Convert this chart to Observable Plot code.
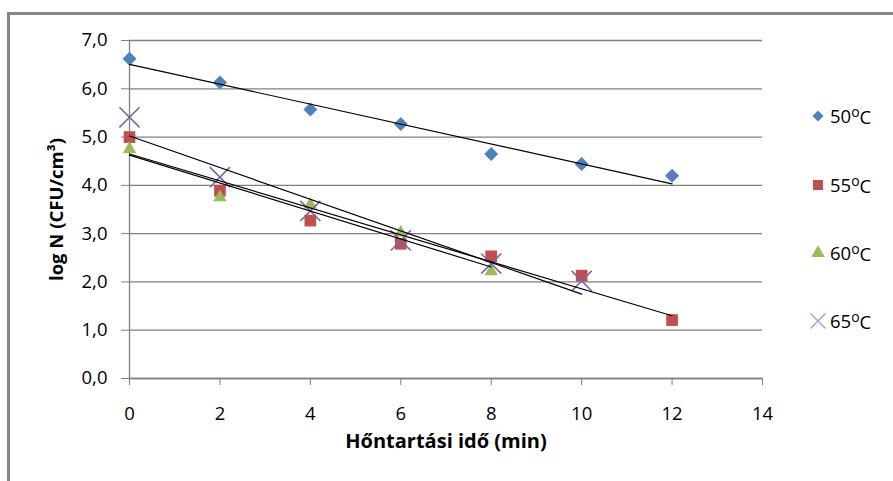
<!DOCTYPE html>
<html><head><meta charset="utf-8">
<script src="https://cdn.jsdelivr.net/npm/d3@7"></script>
<script src="https://cdn.jsdelivr.net/npm/@observablehq/plot@0.6"></script>
<style>
body{margin:0;background:#fff;}
#wrap{position:relative;width:893px;height:481px;overflow:hidden;background:#fff;}
#frame{position:absolute;left:7px;top:12px;width:1000px;height:1000px;border-left:3px solid #878787;border-top:3px solid #878787;}
#chart{position:absolute;left:0;top:0;}
#legend{position:absolute;left:0;top:0;}
</style></head><body>
<div id="wrap"><div id="frame"></div><div id="chart"></div><svg id="legend" width="893" height="481"></svg></div>
<script>
// ---- data ----
const times = [0, 2, 4, 6, 8, 10, 12];
const seriesLabels = ["50", "55", "60", "65"];
const s50 = [6.62, 6.13, 5.57, 5.27, 4.65, 4.44, 4.20];
const s55 = [5.00, 3.89, 3.27, 2.79, 2.53, 2.13, 1.21];
const s60 = [4.75, 3.75, 3.60, 3.02, 2.22];
const s65 = [5.41, 4.17, 3.47, 2.86, 2.38, 2.02];
const yTicks = [0, 1, 2, 3, 4, 5, 6, 7];
const xTicks = [0, 2, 4, 6, 8, 10, 12, 14];
const xTitle = "Hőntartási idő (min)";
const yTitle = "log N (CFU/cm³)";

const seriesValues = [s50, s55, s60, s65];
const colors = ["#4F81BD", "#C0504D", "#9BBB59", "#8064A2"];
const symbols = ["diamond2", "square", "triangle", "times"];
const radii = [6.3, 6.6, 5.0, 9.2];

const rows = [];
seriesValues.forEach((vals, k) => vals.forEach((v, i) => rows.push({t: times[i], v, s: seriesLabels[k]})));

const dotMarks = seriesLabels.map((name, k) => {
  const d = rows.filter(r => r.s === name);
  return symbols[k] === "times"
    ? Plot.dot(d, {x: "t", y: "v", symbol: "times", r: radii[k], stroke: colors[k], strokeWidth: 1.6})
    : Plot.dot(d, {x: "t", y: "v", symbol: symbols[k], r: radii[k], fill: colors[k], stroke: "none"});
});

const chart = Plot.plot({
  width: 893, height: 481,
  marginLeft: 129, marginRight: 131, marginTop: 40, marginBottom: 103,
  x: {domain: [0, 14]},
  y: {domain: [0, 7]},
  style: {fontFamily: "Open Sans", fontSize: "18.5px", color: "#000", background: "transparent", overflow: "visible"},
  marks: [
    Plot.gridY(yTicks, {stroke: "#808080", strokeOpacity: 1, strokeWidth: 1.3}),
    Plot.axisY(yTicks, {tickSize: 8, tickPadding: 14, stroke: "#808080", fill: "#000", label: null,
      tickFormat: d => d.toFixed(1).replace(".", ",")}),
    Plot.axisX(xTicks, {tickSize: 7, tickPadding: 21, stroke: "#808080", fill: "#000", label: null,
      tickFormat: d => String(d)}),
    Plot.ruleX([0], {stroke: "#808080", strokeWidth: 1.3}),
    Plot.ruleY([0], {stroke: "#808080", strokeWidth: 1.3}),
    ...dotMarks,
    Plot.linearRegressionY(rows, {x: "t", y: "v", z: "s", stroke: "#000", strokeWidth: 1.2, ci: 0}),
    Plot.text([xTitle], {frameAnchor: "bottom", dy: 63, lineAnchor: "middle", textAnchor: "middle", fontWeight: "bold", fontSize: 20}),
    Plot.text([yTitle], {frameAnchor: "left", dx: -72, rotate: -90, lineAnchor: "middle", textAnchor: "middle", fontWeight: "bold", fontSize: 18.5})
  ]
});
document.getElementById("chart").appendChild(chart);

// ---- legend ----
const leg = d3.select("#legend");
const legY = [116, 185, 253, 321];
const symMap = {diamond2: d3.symbolDiamond2, square: d3.symbolSquare, triangle: d3.symbolTriangle, times: d3.symbolTimes};
const legSize = [80, 100, 80, 150];
seriesLabels.forEach((name, k) => {
  const g = leg.append("g").attr("transform", `translate(818,${legY[k]})`);
  const p = g.append("path").attr("d", d3.symbol(symMap[symbols[k]], legSize[k])());
  if (symbols[k] === "times") p.attr("fill", "none").attr("stroke", "#A898C8").attr("stroke-width", 1.2);
  else p.attr("fill", colors[k]);
  const t = leg.append("text").attr("x", 830).attr("y", legY[k]).attr("dy", "0.36em")
    .attr("font-family", "Open Sans").attr("font-size", 18.5).attr("fill", "#000");
  t.append("tspan").text(name);
  t.append("tspan").attr("dy", "-0.4em").attr("font-size", 14).text("o");
  t.append("tspan").attr("dy", "0.4em").text("C");
});
</script>
</body></html>
